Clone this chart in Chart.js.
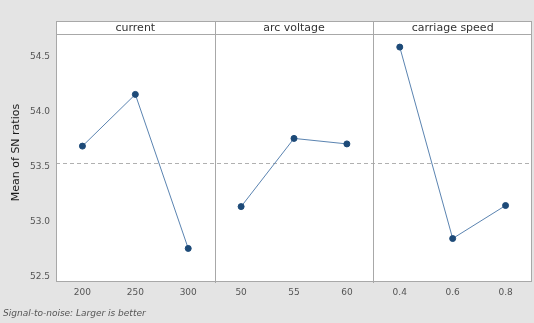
<!DOCTYPE html>
<html>
<head>
<meta charset="utf-8">
<script src="https://cdn.jsdelivr.net/npm/chart.js@4/dist/chart.umd.min.js"></script>
<style>
  html, body { margin: 0; padding: 0; background: #e4e4e4; }
  canvas { display: block; }
</style>
</head>
<body>
<canvas id="c" width="534" height="323"></canvas>
<script>
// Main effects plot for S/N ratios (larger is better)
const factors = ["current", "arc voltage", "carriage speed"];
const currentLevels = ["200", "250", "300"];
const voltageLevels = ["50", "55", "60"];
const speedLevels = ["0.4", "0.6", "0.8"];
const currentSN = [53.69, 54.16, 52.76];
const voltageSN = [53.14, 53.76, 53.71];
const speedSN = [54.59, 52.85, 53.15];
const yTicks = [52.5, 53.0, 53.5, 54.0, 54.5];

const levelSets = [currentLevels, voltageLevels, speedLevels];
const valueSets = [currentSN, voltageSN, speedSN];
const allValues = valueSets.flat();
const grandMean = allValues.reduce((a, b) => a + b, 0) / allValues.length;

// Each factor gets its own panel of 3 units on a shared x scale
const tickPositions = [];
const tickLabels = [];
levelSets.forEach((levels, p) => levels.forEach((lab, i) => {
  tickPositions.push(p * 3 + i + 0.5);
  tickLabels.push(lab);
}));

const lineColor = "#5b84b1";
const pointColor = "#1d4a78";
const frameColor = "#a8a8a8";

const datasets = valueSets.map((vals, p) => ({
  label: factors[p],
  data: vals.map((v, i) => ({ x: p * 3 + i + 0.5, y: v })),
  borderColor: lineColor,
  backgroundColor: pointColor,
  pointBackgroundColor: pointColor,
  pointBorderColor: pointColor,
  pointRadius: 3,
  borderWidth: 1,
  showLine: true,
  tension: 0
}));

const STRIP_H = 13;

const panelPlugin = {
  id: "panels",
  beforeDraw(chart) {
    const { ctx, chartArea: a } = chart;
    ctx.save();
    ctx.fillStyle = "#ffffff";
    ctx.fillRect(a.left, a.top - STRIP_H, a.right - a.left, a.bottom - a.top + STRIP_H);
    ctx.restore();
  },
  beforeDatasetsDraw(chart) {
    const { ctx, chartArea: a, scales } = chart;
    const y = scales.y.getPixelForValue(grandMean);
    ctx.save();
    ctx.strokeStyle = "#b0b0b0";
    ctx.lineWidth = 1;
    ctx.setLineDash([4, 3]);
    ctx.beginPath();
    ctx.moveTo(a.left, Math.round(y) + 0.5);
    ctx.lineTo(a.right, Math.round(y) + 0.5);
    ctx.stroke();
    ctx.restore();
  },
  afterDraw(chart) {
    const { ctx, chartArea: a, scales } = chart;
    const top = a.top - STRIP_H;
    ctx.save();
    ctx.strokeStyle = frameColor;
    ctx.lineWidth = 1;
    // outer frame and strip divider
    ctx.strokeRect(Math.round(a.left) + 0.5, Math.round(top) + 0.5,
      Math.round(a.right - a.left) - 1, Math.round(a.bottom - top));
    ctx.beginPath();
    ctx.moveTo(a.left, Math.round(a.top) + 0.5);
    ctx.lineTo(a.right, Math.round(a.top) + 0.5);
    ctx.stroke();
    // panel separators
    [3, 6].forEach(v => {
      const x = Math.round(scales.x.getPixelForValue(v)) + 0.5;
      ctx.beginPath();
      ctx.moveTo(x, top);
      ctx.lineTo(x, a.bottom + 2);
      ctx.stroke();
    });
    // strip titles
    ctx.fillStyle = "#333333";
    ctx.font = "11px 'DejaVu Sans', sans-serif";
    ctx.textAlign = "center";
    ctx.textBaseline = "middle";
    factors.forEach((f, p) => {
      const cx = (scales.x.getPixelForValue(p * 3) + scales.x.getPixelForValue(p * 3 + 3)) / 2;
      ctx.fillText(f, cx, top + STRIP_H / 2 + 0.5);
    });
    // y-axis title
    ctx.fillStyle = "#1a1a1a";
    ctx.font = "11px 'DejaVu Sans', sans-serif";
    ctx.translate(16, (a.top + a.bottom) / 2 - 5);
    ctx.rotate(-Math.PI / 2);
    ctx.fillText("Mean of SN ratios", 0, 0);
    ctx.restore();
    // footnote
    ctx.save();
    ctx.fillStyle = "#555555";
    ctx.font = "italic 9px 'DejaVu Sans', sans-serif";
    ctx.textAlign = "left";
    ctx.textBaseline = "middle";
    ctx.fillText("Signal-to-noise: Larger is better", 3, 314);
    ctx.restore();
  }
};

new Chart(document.getElementById("c"), {
  type: "scatter",
  data: { datasets },
  options: {
    responsive: false,
    devicePixelRatio: 1,
    animation: false,
    layout: { autoPadding: false, padding: { top: 34, right: 2, bottom: 0, left: 0 } },
    plugins: { legend: { display: false }, tooltip: { enabled: false } },
    scales: {
      x: {
        type: "linear",
        min: 0,
        max: 9,
        afterBuildTicks(scale) { scale.ticks = tickPositions.map(v => ({ value: v })); },
        afterFit(scale) {
          scale.height = 42;
          scale.paddingLeft = 0;
          scale.paddingRight = 0;
        },
        grid: { display: false, drawTicks: false },
        border: { display: false },
        ticks: {
          padding: 6,
          color: "#555555",
          font: { size: 9, family: "'DejaVu Sans', sans-serif" },
          maxRotation: 0,
          autoSkip: false,
          callback(value, index) { return tickLabels[index]; }
        }
      },
      y: {
        type: "linear",
        min: 52.464,
        max: 54.709,
        afterBuildTicks(scale) { scale.ticks = yTicks.map(v => ({ value: v })); },
        afterFit(scale) {
          scale.width = 56;
          scale.paddingTop = 0;
          scale.paddingBottom = 0;
        },
        grid: { display: false, drawTicks: false },
        border: { display: false },
        ticks: {
          padding: 6,
          color: "#555555",
          font: { size: 9, family: "'DejaVu Sans', sans-serif" },
          callback(value) { return Number(value).toFixed(1); }
        }
      }
    }
  },
  plugins: [panelPlugin]
});
</script>
</body>
</html>
